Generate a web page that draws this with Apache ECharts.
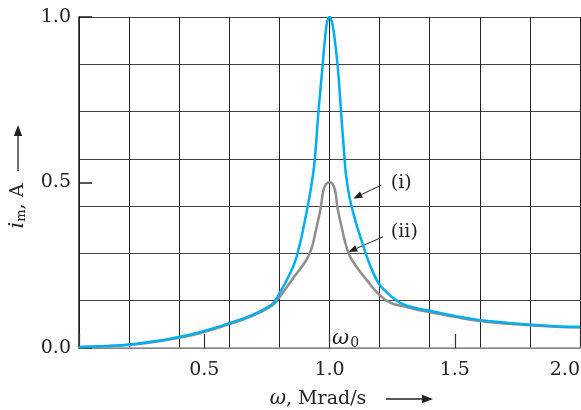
<!DOCTYPE html>
<html>
<head>
<meta charset="utf-8">
<script src="https://cdn.jsdelivr.net/npm/echarts@6/dist/echarts.min.js"></script>
<style>
  html, body { margin: 0; padding: 0; background: #fff; }
  #chart { width: 581px; height: 410px; }
</style>
</head>
<body>
<div id="chart"></div>
<script>
// curve (i): sharp resonance, peak 1.0 A
var omegaI = [0, 0.1, 0.18, 0.28, 0.371, 0.478, 0.588, 0.693, 0.767, 0.785, 0.80, 0.836, 0.869, 0.912, 0.934, 0.942, 0.956, 0.972, 0.984, 0.992, 1.0, 1.008, 1.018, 1.033, 1.046, 1.06, 1.066, 1.089, 1.149, 1.182, 1.207, 1.28, 1.366, 1.403, 1.5, 1.595, 1.7, 1.809, 1.9, 2.0];
var currentI = [0.003, 0.006, 0.009, 0.018, 0.029, 0.047, 0.072, 0.1, 0.13, 0.145, 0.165, 0.215, 0.276, 0.424, 0.523, 0.575, 0.714, 0.849, 0.95, 0.99, 1.0, 0.99, 0.95, 0.849, 0.714, 0.575, 0.523, 0.424, 0.276, 0.215, 0.185, 0.137, 0.117, 0.112, 0.097, 0.085, 0.077, 0.070, 0.066, 0.064];

// curve (ii): broader resonance, peak 0.5 A
var omegaII = [0, 0.1, 0.18, 0.28, 0.371, 0.478, 0.588, 0.693, 0.767, 0.785, 0.849, 0.907, 0.928, 0.947, 0.965, 0.976, 0.988, 1.0, 1.011, 1.022, 1.032, 1.05, 1.07, 1.09, 1.149, 1.2, 1.242, 1.3, 1.366, 1.403, 1.5, 1.595, 1.7, 1.809, 1.9, 2.0];
var currentII = [0.002, 0.005, 0.008, 0.016, 0.027, 0.044, 0.069, 0.097, 0.126, 0.138, 0.205, 0.265, 0.30, 0.36, 0.424, 0.477, 0.497, 0.5, 0.497, 0.477, 0.424, 0.36, 0.30, 0.265, 0.205, 0.16, 0.137, 0.125, 0.113, 0.108, 0.094, 0.082, 0.074, 0.068, 0.064, 0.062];

var xTicks = [0.5, 1.0, 1.5, 2.0];
var yTicks = [0.0, 0.5, 1.0];

function pairs(xs, ys) {
    return xs.map(function (x, i) { return [x, ys[i]]; });
}

var serif = '"DejaVu Serif", "Liberation Serif", serif';
var chart = echarts.init(document.getElementById('chart'));

var option = {
    animation: false,
    grid: { left: 79, right: 1, top: 17, bottom: 62, outerBoundsMode: 'none', containLabel: false },
    xAxis: [
        {
            type: 'value', min: 0, max: 2, interval: 0.5,
            axisLine: { show: true, lineStyle: { color: '#999', width: 1.5 } },
            axisTick: { show: true, inside: true, length: 14, lineStyle: { color: '#333', width: 1.2 } },
            axisLabel: {
                color: '#222', fontFamily: serif, fontSize: 19, margin: 13, hideOverlap: false,
                alignMaxLabel: 'right',
                formatter: function (v) { return xTicks.indexOf(v) >= 0 ? v.toFixed(1) : ''; }
            },
            splitLine: { show: false }
        },
        {
            type: 'value', min: 0, max: 2, interval: 0.2, position: 'bottom',
            axisLine: { show: false }, axisTick: { show: false }, axisLabel: { show: false },
            splitLine: { show: true, lineStyle: { color: '#222', width: 1 } }
        }
    ],
    yAxis: [
        {
            type: 'value', min: 0, max: 1, interval: 0.5,
            axisLine: { show: true, lineStyle: { color: '#222', width: 1.5 } },
            axisTick: { show: true, inside: true, length: 13, lineStyle: { color: '#222', width: 1.5 } },
            axisLabel: {
                color: '#222', fontFamily: serif, fontSize: 19, margin: 8,
                formatter: function (v) { return yTicks.indexOf(v) >= 0 ? v.toFixed(1) : ''; }
            },
            splitLine: { show: false }
        },
        {
            type: 'value', min: 0, max: 1, interval: 1 / 7,
            axisLine: { show: false }, axisTick: { show: false }, axisLabel: { show: false },
            splitLine: { show: true, lineStyle: { color: '#444', width: 1.2 } }
        }
    ],
    series: [
        {
            name: '(ii)', type: 'line', xAxisIndex: 0, yAxisIndex: 0,
            data: pairs(omegaII, currentII),
            smooth: 0.45, showSymbol: false,
            lineStyle: { color: '#8e8e8e', width: 2.5 }
        },
        {
            name: '(i)', type: 'line', xAxisIndex: 0, yAxisIndex: 0,
            data: pairs(omegaI, currentI),
            smooth: 0.45, showSymbol: false,
            lineStyle: { color: '#00aeef', width: 2.5 }
        }
    ]
};
chart.setOption(option);

function px(pt) {
    return chart.convertToPixel({ xAxisIndex: 0, yAxisIndex: 0 }, pt);
}

function arrow(a, b, size, width) {
    var ang = Math.atan2(b[1] - a[1], b[0] - a[0]);
    var back = [b[0] - size * Math.cos(ang), b[1] - size * Math.sin(ang)];
    var nx = -Math.sin(ang) * size * 0.38, ny = Math.cos(ang) * size * 0.38;
    return [
        { type: 'line', shape: { x1: a[0], y1: a[1], x2: back[0], y2: back[1] }, style: { stroke: '#222', lineWidth: width } },
        { type: 'polygon', shape: { points: [b, [back[0] + nx, back[1] + ny], [back[0] - nx, back[1] - ny]] }, style: { fill: '#222' } }
    ];
}

var pI0 = px([1.207, 0.492]), pI1 = px([1.095, 0.452]);
var pII0 = px([1.214, 0.336]), pII1 = px([1.075, 0.29]);
var tI = px([1.245, 0.498]), tII = px([1.245, 0.35]);
var w0 = px([1.01, 0.03]);

var elements = []
    .concat(arrow(pI0, pI1, 9, 1))
    .concat(arrow(pII0, pII1, 9, 1))
    .concat(arrow([386, 399], [433, 399], 11, 1.3))
    .concat(arrow([18, 171], [18, 125], 11, 1.3));

elements.push(
    { type: 'text', x: tI[0], y: tI[1], style: { text: '(i)', fontFamily: serif, fontSize: 19, fill: '#222', align: 'left', verticalAlign: 'middle' } },
    { type: 'text', x: tII[0], y: tII[1], style: { text: '(ii)', fontFamily: serif, fontSize: 19, fill: '#222', align: 'left', verticalAlign: 'middle' } },
    {
        type: 'text', x: w0[0], y: w0[1],
        style: {
            text: '{w|ω}{s|0}', align: 'left', verticalAlign: 'middle',
            rich: {
                w: { fontFamily: serif, fontStyle: 'italic', fontSize: 21, fill: '#222' },
                s: { fontFamily: serif, fontSize: 14, fill: '#222', padding: [10, 0, 0, 1] }
            }
        }
    },
    {
        type: 'text', x: 318, y: 399,
        style: {
            text: '{w|ω}{t|, Mrad/s}', align: 'center', verticalAlign: 'middle',
            rich: {
                w: { fontFamily: serif, fontStyle: 'italic', fontSize: 20, fill: '#222' },
                t: { fontFamily: serif, fontSize: 19, fill: '#222' }
            }
        }
    },
    {
        type: 'text', x: 18, y: 206, rotation: Math.PI / 2,
        style: {
            text: '{i|i}{m|m}{t|, A}', align: 'center', verticalAlign: 'middle',
            rich: {
                i: { fontFamily: serif, fontStyle: 'italic', fontSize: 21, fill: '#222' },
                m: { fontFamily: serif, fontSize: 13, fill: '#222', padding: [8, 0, 0, 0] },
                t: { fontFamily: serif, fontSize: 19, fill: '#222' }
            }
        }
    }
);

chart.setOption({ graphic: { elements: elements } });
</script>
</body>
</html>
